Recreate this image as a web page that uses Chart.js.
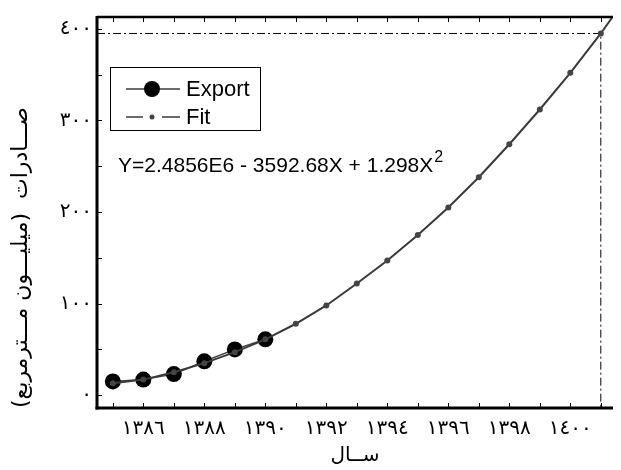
<!DOCTYPE html>
<html>
<head>
<meta charset="utf-8">
<script src="https://cdn.jsdelivr.net/npm/chart.js@4.4.1/dist/chart.umd.min.js"></script>
<style>
  html, body { margin: 0; padding: 0; background: #fff; }
  #wrap { width: 621px; height: 470px; }
</style>
</head>
<body>
<div id="wrap"><canvas id="chart"></canvas></div>
<script>

const exportYears = [1385, 1386, 1387, 1388, 1389, 1390];
const exportValues = [15, 17, 23, 37, 50, 61];

const fitYears = [1385, 1386, 1387, 1388, 1389, 1390, 1391, 1392, 1393, 1394, 1395, 1396, 1397, 1398, 1399, 1400, 1401, 1402];
const fitValues = [13, 17, 25, 35, 47, 61, 78, 98, 122, 147, 175, 205, 238, 274, 312, 352, 395, 442];

const yearTicks = [1386, 1388, 1390, 1392, 1394, 1396, 1398, 1400];
const valueTicks = [0, 100, 200, 300, 400];

const guideYear = 1401;
const guideValue = 395;

const equationText = 'Y=2.4856E6 - 3592.68X + 1.298X';


const arabicDigits = '٠١٢٣٤٥٦٧٨٩';

function toArabic(n) {
    return String(n).replace(/\d/g, d => arabicDigits[d]);
}

const X_MIN = 1384.48;
const X_MAX = 1401.4;
const Y_MIN = -14;
const Y_MAX = 413;

const lineGray = '#3a3a3a';


const framePlugin = {

    id: 'frame',

    afterDatasetsDraw(chart) {

        const { ctx, chartArea: a, scales: { x, y } } = chart;

        const seg = (x1, y1, x2, y2) => {
            ctx.beginPath();
            ctx.moveTo(x1, y1);
            ctx.lineTo(x2, y2);
            ctx.stroke();
        };

        ctx.save();
        ctx.strokeStyle = '#000';
        ctx.lineWidth = 1;

        x.ticks.forEach(t => {
            if (!Number.isInteger(t.value)) return;
            const px = Math.round(x.getPixelForValue(t.value)) + 0.5;
            seg(px, a.bottom, px, a.bottom - 5);
            seg(px, a.top, px, a.top + 5);
        });

        y.ticks.forEach(t => {
            if (!Number.isInteger(t.value) || t.value % 50 !== 0) return;
            const py = Math.round(y.getPixelForValue(t.value)) + 0.5;
            seg(a.left, py, a.left + 5, py);
        });

        ctx.lineWidth = 3;
        seg(a.left, a.top - 1, a.left, a.bottom + 1.5);
        seg(a.left - 1.5, a.bottom, a.right, a.bottom);

        ctx.lineWidth = 2.5;
        seg(a.left, a.top, a.right, a.top);

        ctx.restore();
    }
};


const legendPlugin = {

    id: 'boxLegend',

    afterDraw(chart) {

        const { ctx } = chart;
        const sets = chart.data.datasets.filter(d => d.label);

        ctx.save();

        ctx.strokeStyle = '#000';
        ctx.lineWidth = 1;
        ctx.strokeRect(110.5, 67.5, 150, 63);

        sets.forEach((ds, i) => {

            const cy = 89 + i * 28;

            ctx.strokeStyle = lineGray;
            ctx.fillStyle = ds.pointBackgroundColor;
            ctx.lineWidth = 1.5;

            if (ds.label === 'Export') {
                ctx.beginPath();
                ctx.moveTo(126, cy);
                ctx.lineTo(180, cy);
                ctx.stroke();
                ctx.beginPath();
                ctx.arc(152, cy, 8, 0, Math.PI * 2);
                ctx.fill();
            } else {
                ctx.beginPath();
                ctx.moveTo(126, cy);
                ctx.lineTo(143, cy);
                ctx.moveTo(162, cy);
                ctx.lineTo(180, cy);
                ctx.stroke();
                ctx.beginPath();
                ctx.arc(152, cy, 2.5, 0, Math.PI * 2);
                ctx.fill();
            }

            ctx.fillStyle = '#000';
            ctx.font = '22px "Liberation Sans", Arial, sans-serif';
            ctx.textBaseline = 'middle';
            ctx.textAlign = 'left';
            ctx.fillText(ds.label, 186, cy + 1);
        });

        // fitted equation
        ctx.font = '21px "Liberation Sans", Arial, sans-serif';
        ctx.textBaseline = 'alphabetic';
        ctx.fillText(equationText, 118, 172);
        const w = ctx.measureText(equationText).width;
        ctx.font = '16px "Liberation Sans", Arial, sans-serif';
        ctx.fillText('2', 118 + w + 1, 162);

        ctx.restore();
    }
};


const ctx = document.getElementById('chart').getContext('2d');

new Chart(ctx, {

    type: 'line',

    data: {
        datasets: [
            {
                label: 'Export',
                data: exportYears.map((yr, i) => ({ x: yr, y: exportValues[i] })),
                borderColor: '#444',
                borderWidth: 1.5,
                pointRadius: 8,
                pointBackgroundColor: '#000',
                pointBorderColor: '#000',
                pointBorderWidth: 0,
                tension: 0,
                order: 2
            },
            {
                label: 'Fit',
                data: fitYears.map((yr, i) => ({ x: yr, y: fitValues[i] })),
                borderColor: lineGray,
                borderWidth: 2,
                pointRadius: c => fitYears[c.dataIndex] > guideYear ? 0 : 3,
                pointBackgroundColor: '#444',
                pointBorderWidth: 0,
                tension: 0,
                order: 1
            },
            {
                label: '',
                data: [
                    { x: X_MIN, y: guideValue },
                    { x: guideYear, y: guideValue },
                    { x: guideYear, y: Y_MIN }
                ],
                borderColor: '#000',
                borderWidth: 1,
                borderDash: [8, 3, 2, 3],
                pointRadius: 0,
                tension: 0,
                order: 3
            }
        ]
    },

    options: {

        responsive: true,
        maintainAspectRatio: false,
        animation: false,

        layout: {
            padding: { top: 15, right: 0, bottom: 0, left: 0 }
        },

        plugins: {
            legend: { display: false },
            tooltip: { enabled: false }
        },

        scales: {

            x: {
                type: 'linear',
                min: X_MIN,
                max: X_MAX,
                grid: { display: false, drawTicks: false },
                border: { display: false },
                ticks: {
                    stepSize: 1,
                    includeBounds: false,
                    autoSkip: false,
                    maxRotation: 0,
                    padding: 9,
                    color: '#000',
                    font: { family: '"DejaVu Sans"', size: 20 },
                    callback: v => yearTicks.includes(v) ? toArabic(v) : ''
                },
                title: {
                    display: true,
                    text: 'ســال',
                    color: '#000',
                    font: { family: '"DejaVu Sans"', size: 20 },
                    padding: { top: 0, bottom: 2 }
                },
                afterFit: s => { s.height = 62; }
            },

            y: {
                min: Y_MIN,
                max: Y_MAX,
                grid: { display: false, drawTicks: false },
                border: { display: false },
                ticks: {
                    stepSize: 50,
                    includeBounds: false,
                    autoSkip: false,
                    padding: 5,
                    color: '#000',
                    font: { family: '"DejaVu Sans"', size: 20 },
                    callback: v => valueTicks.includes(v) ? toArabic(v) : ''
                },
                title: {
                    display: true,
                    text: '\u200Fصـــادرات  (میلیـــون مـــترمربع)\u200F',
                    color: '#000',
                    align: 'start',
                    font: { family: '"DejaVu Sans"', size: 22 },
                    padding: { top: 8, bottom: 0 }
                },
                afterFit: s => { s.width = 97; }
            }
        }
    },

    plugins: [framePlugin, legendPlugin]

});

</script>
</body>
</html>
